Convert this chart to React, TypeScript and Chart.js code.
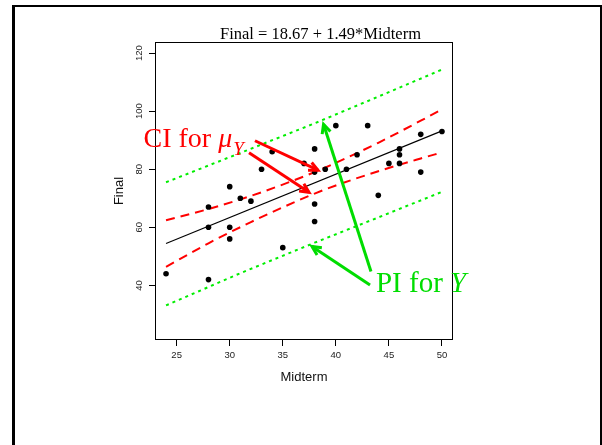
import React, { useEffect, useRef } from "react";
import { Chart, registerables } from "chart.js";

Chart.register(...registerables);

// ---- data ----
const midterm = [24, 28, 28, 28, 30, 30, 30, 31, 32, 33, 34, 35, 37, 38, 38, 38, 38, 39, 40, 41, 42, 43, 44, 45, 46, 46, 46, 48, 48, 50];
const finalScores = [44, 67, 60, 42, 74, 60, 56, 70, 69, 80, 86, 53, 82, 87, 79, 68, 62, 80, 95, 80, 85, 95, 71, 82, 87, 85, 82, 92, 79, 93];

const fitX = [24, 50];
const fitY = [54.4, 93.2];

const ciX = [24, 28, 32, 36, 38, 40, 44, 48, 50];
const ciUpper = [62.4, 66.3, 70.8, 76.1, 79.0, 82.2, 89.1, 96.7, 100.6];
const ciLower = [46.4, 54.5, 61.8, 68.5, 71.6, 74.4, 79.3, 83.7, 85.8];

const piX = [24, 31, 38, 44, 50];
const piUpper = [75.5, 85.6, 95.8, 105.0, 114.3];
const piLower = [33.1, 44.2, 54.7, 63.4, 72.2];

const xTicks = [25, 30, 35, 40, 45, 50];
const yTicks = [40, 60, 80, 100, 120];
const xRange = [22.96, 51.04];
const yRange = [21.2, 123.8];

const titleText = "Final = 18.67 + 1.49*Midterm";
const xTitle = "Midterm";
const yTitle = "Final";

// annotation anchors in data coordinates: [fromX, fromY, toX, toY]
const ciArrows = [
  [32.38, 89.8, 38.32, 79.65],
  [31.82, 85.7, 37.47, 72.05],
];
const piArrows = [
  [43.31, 44.8, 38.84, 95.5],
  [43.22, 40.15, 37.75, 53.4],
];
const ciLabelAt = [21.88, 87.75];
const piLabelAt = [43.78, 37.56];

const RED = "#ff0000";
const GREEN_LINE = "#00ee00";
const GREEN_TEXT = "#00dd00";

function pts(xs: number[], ys: number[]) {
  return xs.map((x, i) => ({ x, y: ys[i] }));
}

function arrow(ctx: CanvasRenderingContext2D, x1: number, y1: number, x2: number, y2: number, color: string) {
  const ang = Math.atan2(y2 - y1, x2 - x1);
  const head = 10;
  const spread = Math.PI / 7;
  ctx.save();
  ctx.strokeStyle = color;
  ctx.lineWidth = 3;
  ctx.lineCap = "butt";
  ctx.lineJoin = "miter";
  ctx.beginPath();
  ctx.moveTo(x1, y1);
  ctx.lineTo(x2, y2);
  ctx.stroke();
  ctx.beginPath();
  ctx.moveTo(x2 - head * Math.cos(ang - spread), y2 - head * Math.sin(ang - spread));
  ctx.lineTo(x2, y2);
  ctx.lineTo(x2 - head * Math.cos(ang + spread), y2 - head * Math.sin(ang + spread));
  ctx.stroke();
  ctx.restore();
}

const decor = {
  id: "decor",
  beforeDraw(chart: any) {
    const { ctx, width, height } = chart;
    ctx.save();
    ctx.fillStyle = "#fff";
    ctx.fillRect(0, 0, width, height);
    ctx.fillStyle = "#000";
    ctx.fillRect(12, 5, 590, 2);
    ctx.fillRect(12, 5, 3, height - 5);
    ctx.fillRect(600, 5, 2, height - 5);
    ctx.restore();
  },
  afterDraw(chart: any) {
    const { ctx, chartArea: a, scales } = chart;
    const xs = scales.x;
    const ys = scales.y;
    ctx.save();
    // plot box
    ctx.strokeStyle = "#000";
    ctx.lineWidth = 1;
    ctx.strokeRect(Math.round(a.left) + 0.5, Math.round(a.top) + 0.5, Math.round(a.right - a.left) - 1, Math.round(a.bottom - a.top) - 1);

    // title
    ctx.fillStyle = "#000";
    ctx.font = '16.5px "Liberation Serif"';
    ctx.textAlign = "center";
    ctx.textBaseline = "alphabetic";
    ctx.fillText(titleText, 320.5, 39);

    // arrows
    for (const [a1, b1, a2, b2] of ciArrows) {
      arrow(ctx, xs.getPixelForValue(a1), ys.getPixelForValue(b1), xs.getPixelForValue(a2), ys.getPixelForValue(b2), RED);
    }
    for (const [a1, b1, a2, b2] of piArrows) {
      arrow(ctx, xs.getPixelForValue(a1), ys.getPixelForValue(b1), xs.getPixelForValue(a2), ys.getPixelForValue(b2), GREEN_TEXT);
    }

    // CI label
    ctx.textAlign = "left";
    let px = xs.getPixelForValue(ciLabelAt[0]);
    const py = ys.getPixelForValue(ciLabelAt[1]);
    ctx.fillStyle = RED;
    ctx.font = '28px "Liberation Serif"';
    ctx.fillText("CI for ", px, py);
    px += ctx.measureText("CI for ").width;
    ctx.font = 'italic 28px "Liberation Serif"';
    ctx.fillText("\u03bc", px, py);
    px += ctx.measureText("\u03bc").width + 1;
    ctx.font = 'italic 19px "Liberation Serif"';
    ctx.fillText("Y", px, py + 8.5);

    // PI label
    let qx = xs.getPixelForValue(piLabelAt[0]);
    const qy = ys.getPixelForValue(piLabelAt[1]);
    ctx.fillStyle = GREEN_TEXT;
    ctx.font = '29px "Liberation Serif"';
    ctx.fillText("PI for ", qx, qy);
    qx += ctx.measureText("PI for ").width;
    ctx.font = 'italic 29px "Liberation Serif"';
    ctx.fillText("Y", qx, qy);
    ctx.restore();
  },
};

export default function App() {
  const ref = useRef<HTMLCanvasElement | null>(null);

  useEffect(() => {
    if (!ref.current) return;
    const tickFont = { family: '"Liberation Sans", Arial, sans-serif', size: 9.5 };
    const titleFont = { family: '"Liberation Sans", Arial, sans-serif', size: 13 };
    const chart = new Chart(ref.current, {
      type: "scatter",
      data: {
        datasets: [
          {
            label: "data",
            data: pts(midterm, finalScores),
            backgroundColor: "#000",
            borderColor: "#000",
            pointRadius: 2.8,
            pointBorderWidth: 0,
            showLine: false,
          },
          {
            label: "fit",
            data: pts(fitX, fitY),
            borderColor: "#000",
            borderWidth: 1.1,
            pointRadius: 0,
            showLine: true,
          },
          {
            label: "ci upper",
            data: pts(ciX, ciUpper),
            borderColor: RED,
            borderWidth: 2,
            borderDash: [9, 6],
            pointRadius: 0,
            showLine: true,
            cubicInterpolationMode: "monotone",
          },
          {
            label: "ci lower",
            data: pts(ciX, ciLower),
            borderColor: RED,
            borderWidth: 2,
            borderDash: [9, 6],
            pointRadius: 0,
            showLine: true,
            cubicInterpolationMode: "monotone",
          },
          {
            label: "pi upper",
            data: pts(piX, piUpper),
            borderColor: GREEN_LINE,
            borderWidth: 2,
            borderDash: [3, 4],
            pointRadius: 0,
            showLine: true,
          },
          {
            label: "pi lower",
            data: pts(piX, piLower),
            borderColor: GREEN_LINE,
            borderWidth: 2,
            borderDash: [3, 4],
            pointRadius: 0,
            showLine: true,
          },
        ],
      },
      options: {
        responsive: false,
        animation: false,
        events: [],
        layout: { padding: { left: 110, top: 42, right: 149, bottom: 60 } },
        plugins: {
          legend: { display: false },
          tooltip: { enabled: false },
          title: { display: false },
        },
        scales: {
          x: {
            type: "linear",
            position: "bottom",
            min: xRange[0],
            max: xRange[1],
            afterBuildTicks: (s: any) => {
              s.ticks = xTicks.map((v) => ({ value: v }));
            },
            afterFit: (s: any) => {
              s.height = 45;
            },
            ticks: {
              autoSkip: false,
              maxRotation: 0,
              minRotation: 0,
              padding: 4,
              color: "#222",
              font: tickFont,
            },
            grid: { display: true, drawOnChartArea: false, drawTicks: true, tickLength: 6, color: "#000", lineWidth: 1 },
            border: { display: false },
            title: { display: true, text: xTitle, color: "#111", font: titleFont, padding: { top: 0, bottom: 0 } },
          },
          y: {
            type: "linear",
            position: "left",
            min: yRange[0],
            max: yRange[1],
            afterBuildTicks: (s: any) => {
              s.ticks = yTicks.map((v) => ({ value: v }));
            },
            afterFit: (s: any) => {
              s.width = 45;
            },
            ticks: {
              autoSkip: false,
              minRotation: 90,
              maxRotation: 90,
              crossAlign: "center",
              padding: 2,
              color: "#222",
              font: tickFont,
            },
            grid: { display: true, drawOnChartArea: false, drawTicks: true, tickLength: 6, color: "#000", lineWidth: 1 },
            border: { display: false },
            title: { display: true, text: yTitle, color: "#111", font: titleFont, padding: { top: 2, bottom: 0 } },
          },
        },
      },
      plugins: [decor],
    } as any);
    return () => chart.destroy();
  }, []);

  return (
    <div style={{ position: "absolute", left: 0, top: 0, width: 602, height: 445, overflow: "hidden" }}>
      <canvas ref={ref} width={602} height={445} style={{ width: 602, height: 445, display: "block" }} />
    </div>
  );
}
